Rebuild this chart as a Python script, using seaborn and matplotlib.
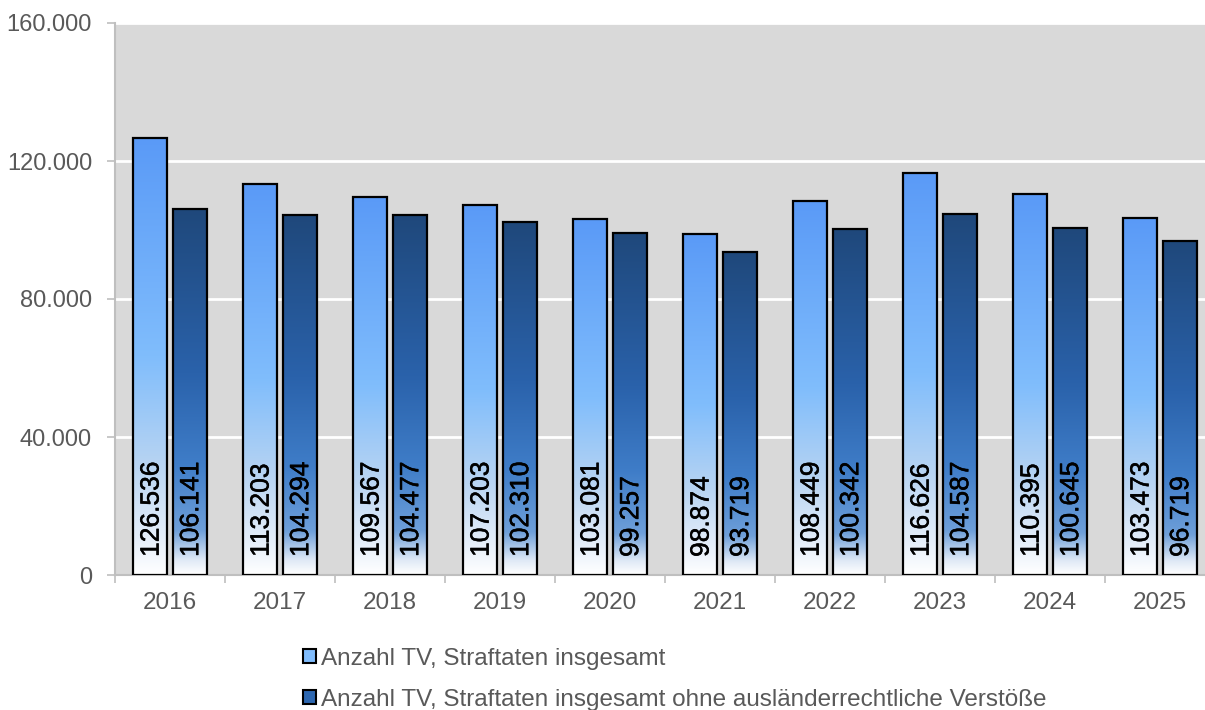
import numpy as np
import pandas as pd
import matplotlib
matplotlib.use("Agg")
import matplotlib.pyplot as plt
import matplotlib.patheffects as pe
import seaborn as sns
from matplotlib.colors import LinearSegmentedColormap
from matplotlib.patches import Patch

years = ["2016", "2017", "2018", "2019", "2020", "2021", "2022", "2023", "2024", "2025"]
total = [126536, 113203, 109567, 107203, 103081, 98874, 108449, 116626, 110395, 103473]
ohne = [106141, 104294, 104477, 102310, 99257, 93719, 100342, 104587, 100645, 96719]
series_names = ["Anzahl TV, Straftaten insgesamt",
                "Anzahl TV, Straftaten insgesamt ohne ausländerrechtliche Verstöße"]
yticks = [0, 40000, 80000, 120000, 160000]

df = pd.DataFrame({
    "Jahr": years * 2,
    "Wert": total + ohne,
    "Serie": [series_names[0]] * len(years) + [series_names[1]] * len(years),
})

sns.set_theme(style="white")
plt.rcParams["font.family"] = ["Liberation Sans", "DejaVu Sans"]

fig = plt.figure(figsize=(12.05, 7.10), dpi=100)
ax = fig.add_axes([115 / 1205, 135 / 710, 1100 / 1205, 552 / 710])
ax.set_facecolor("#d9d9d9")

light_cmap = LinearSegmentedColormap.from_list(
    "light", [(0.0, "#ffffff"), (0.08, "#e6effa"), (0.25, "#b8d4f2"),
              (0.5, "#80bdfc"), (1.0, "#5a9af7")])
dark_cmap = LinearSegmentedColormap.from_list(
    "dark", [(0.0, "#ffffff"), (0.04, "#dfe9f6"), (0.12, "#6e9fd9"),
             (0.3, "#3f7dc8"), (0.55, "#2a62ab"), (1.0, "#1f487b")])

sns.barplot(data=df, x="Jahr", y="Wert", hue="Serie", order=years,
            hue_order=series_names, width=0.72, gap=0.14, ax=ax,
            legend=False, palette=["#80bcfc", "#2d67b0"])

grad = np.linspace(0, 1, 256).reshape(-1, 1)
n = len(years)
for i, p in enumerate(ax.patches[:2 * n]):
    cmap = light_cmap if i < n else dark_cmap
    x0, y0 = p.get_x(), p.get_y()
    w, h = p.get_width(), p.get_height()
    im = ax.imshow(grad, cmap=cmap, origin="lower", aspect="auto",
                   extent=[x0, x0 + w, y0, y0 + h], zorder=2,
                   interpolation="bilinear")
    im.set_clip_path(p)
    p.set_facecolor("none")
    p.set_edgecolor("black")
    p.set_linewidth(1.6)
    p.set_zorder(3)
    val = total[i] if i < n else ohne[i - n]
    label = f"{val:,}".replace(",", ".")
    ax.annotate(label, (x0 + w / 2, 0), xytext=(1, 13), textcoords="offset points",
                rotation=90, ha="center", va="bottom", fontsize=19,
                color="black", zorder=4,
                path_effects=[pe.withStroke(linewidth=0.35, foreground="black")])

ax.set_xlim(-0.5, n - 0.5)
ax.set_ylim(0, 160000)
ax.set_yticks(yticks)
ax.set_yticklabels([f"{v:,}".replace(",", ".") for v in yticks])
ax.yaxis.grid(True, color="white", linewidth=2)
ax.set_axisbelow(True)

ax.set_xticks(range(n))
ax.set_xticklabels(years)
ax.set_xticks(np.arange(-0.5, n, 1), minor=True)
ax.tick_params(axis="x", which="major", length=0, pad=12, labelsize=17.5,
               labelcolor="#595959")
ax.tick_params(axis="x", which="minor", length=6, width=1.2, color="#bfbfbf",
               direction="out", bottom=True)
ax.tick_params(axis="y", length=6, width=1.2, color="#bfbfbf", direction="out",
               left=True, pad=10.5, labelsize=17, labelcolor="#595959")
ax.set_xlabel("")
ax.set_ylabel("")
for s in ["top", "right"]:
    ax.spines[s].set_visible(False)
for s in ["left", "bottom"]:
    ax.spines[s].set_color("#bfbfbf")
    ax.spines[s].set_linewidth(1.5)

handles = [Patch(facecolor="#80bcfc", edgecolor="black", linewidth=1.5),
           Patch(facecolor="#2d67b0", edgecolor="black", linewidth=1.5)]
leg = fig.legend(handles, series_names, loc="upper left",
                 bbox_to_anchor=(293 / 1205, 1 - 638 / 710), frameon=False,
                 fontsize=17.5, handlelength=0.55, handleheight=0.55,
                 handletextpad=0.2, labelspacing=0.78, borderaxespad=0)
for t in leg.get_texts():
    t.set_color("#595959")

fig.savefig("out.png", dpi=100)
